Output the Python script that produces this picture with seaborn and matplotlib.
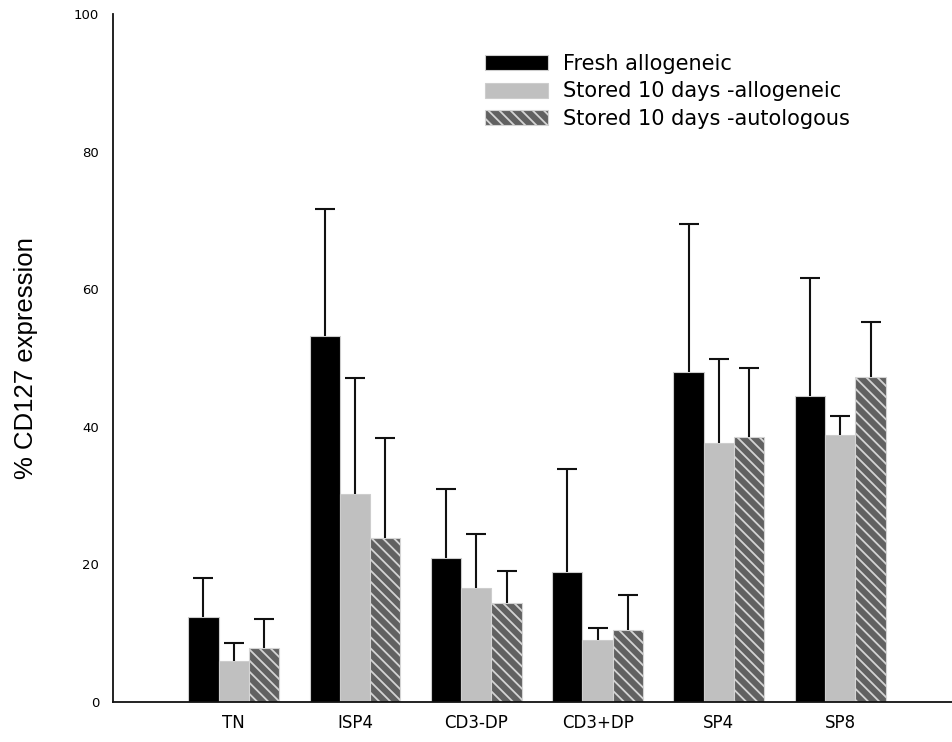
import matplotlib
matplotlib.use("Agg")
import matplotlib.pyplot as plt
import seaborn as sns
import pandas as pd
import numpy as np

# Thymocyte subsets and group means / SD (upper error only)
categories = ["TN", "ISP4", "CD3-DP", "CD3+DP", "SP4", "SP8"]
groups = ["Fresh allogeneic", "Stored 10 days -allogeneic", "Stored 10 days -autologous"]

fresh_allo = [12.3, 53.2, 21.0, 18.9, 48.0, 44.5]
fresh_allo_sd = [5.7, 18.4, 10.0, 15.0, 21.5, 17.2]

stored_allo = [5.9, 30.3, 16.5, 9.0, 37.7, 38.8]
stored_allo_sd = [2.7, 16.8, 7.9, 1.8, 12.2, 2.8]

stored_auto = [7.8, 23.8, 14.4, 10.5, 38.5, 47.3]
stored_auto_sd = [4.2, 14.5, 4.6, 5.1, 10.1, 8.0]

means = [fresh_allo, stored_allo, stored_auto]
sds = [fresh_allo_sd, stored_allo_sd, stored_auto_sd]

df = pd.DataFrame({
    "subset": np.tile(categories, len(groups)),
    "group": np.repeat(groups, len(categories)),
    "value": np.concatenate(means),
})

sns.set_style("white")
plt.rcParams["font.family"] = ["DejaVu Sans"]
plt.rcParams["hatch.linewidth"] = 1.3
plt.rcParams["text.color"] = "black"
plt.rcParams["xtick.color"] = "black"
plt.rcParams["ytick.color"] = "black"
plt.rcParams["axes.labelcolor"] = "black"

fig = plt.figure(figsize=(9.53, 7.42), dpi=100)
W, H = 953, 742
ax = fig.add_axes([113 / W, (H - 702) / H, (953 - 113) / W, (702 - 14) / H])

palette = {groups[0]: "#000000", groups[1]: "#c0c0c0", groups[2]: "#616161"}
sns.barplot(data=df, x="subset", y="value", hue="group", order=categories,
            hue_order=groups, palette=palette, width=0.75, errorbar=None,
            saturation=1, legend=False, ax=ax,
            edgecolor="#cdcdcd", linewidth=0.8)

# hatch for the autologous group
for patch in ax.containers[2]:
    patch.set_hatch("\\\\\\")
    patch.set_edgecolor("#d4d4d4")

# upper-only error bars at each bar centre
for cont, sd in zip(ax.containers, sds):
    xs = [p.get_x() + p.get_width() / 2 for p in cont]
    ys = [p.get_height() for p in cont]
    _, caps, _ = ax.errorbar(xs, ys, yerr=[np.zeros(len(sd)), sd], fmt="none",
                             ecolor="#111111", elinewidth=1.5, capsize=7.5,
                             capthick=1.5, zorder=1)
    caps[0].set_visible(False)

ax.set_ylim(0, 100)
ax.set_xlim(-0.995, 5.93)
ax.set_yticks([0, 20, 40, 60, 80, 100])
ax.tick_params(axis="y", length=0, pad=10, labelsize=9.5)
ax.tick_params(axis="x", length=0, pad=9, labelsize=12)

for s in ["top", "right"]:
    ax.spines[s].set_visible(False)
for s in ["left", "bottom"]:
    ax.spines[s].set_color("#111111")
    ax.spines[s].set_linewidth(1.3)

ax.set_xlabel("")
ax.set_ylabel("% CD127 expression", fontsize=18.5, family=["Liberation Sans"])
ax.yaxis.set_label_coords(-0.089, 0.5)

leg = ax.legend(ax.containers, groups, loc="upper left",
                bbox_to_anchor=(0.443, 0.942), frameon=False, fontsize=15,
                handlelength=3.0, handleheight=0.75, handletextpad=0.75,
                labelspacing=0.36, borderpad=0, borderaxespad=0)

fig.savefig("out.png", dpi=100)
